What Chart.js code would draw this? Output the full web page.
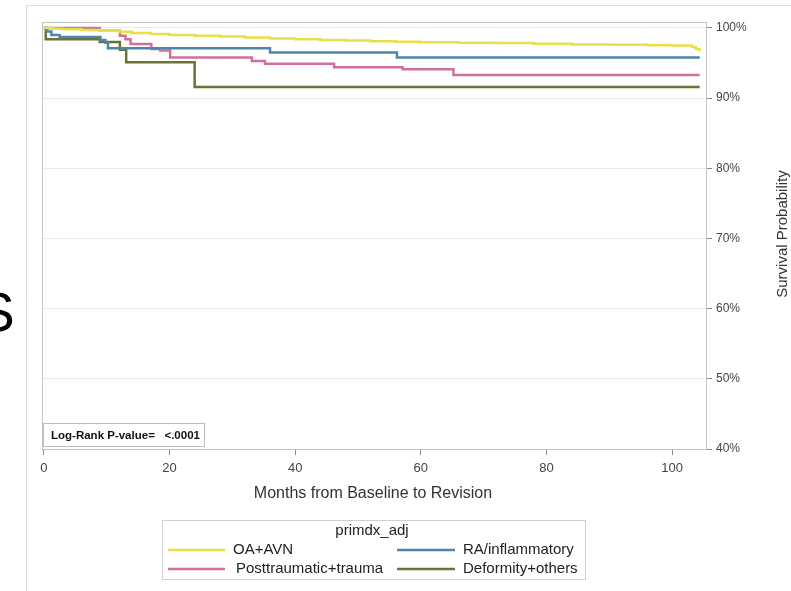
<!DOCTYPE html>
<html><head><meta charset="utf-8">
<script src="https://cdn.jsdelivr.net/npm/chart.js@4/dist/chart.umd.min.js"></script>
<style>html,body{margin:0;padding:0;background:#fff;}canvas{display:block}</style>
</head><body>
<canvas id="c" width="791" height="591"></canvas>
<script>
// ---- data ----
const xTicks = [0, 20, 40, 60, 80, 100];
const yTicks = [40, 50, 60, 70, 80, 90, 100];
const seriesNames = ['OA+AVN', 'RA/inflammatory', 'Posttraumatic+trauma', 'Deformity+others'];

const monthsOA = [0, 1.5, 3, 6, 9, 12, 14, 17, 20, 24, 28, 32, 36, 40, 44, 48, 52, 56, 60, 66, 72, 78, 84, 90, 96, 100, 103.2, 103.8, 104.4];
const survOA   = [100, 99.9, 99.8, 99.7, 99.6, 99.45, 99.3, 99.15, 99.0, 98.9, 98.8, 98.65, 98.5, 98.4, 98.3, 98.2, 98.1, 98.05, 97.95, 97.9, 97.85, 97.75, 97.65, 97.6, 97.55, 97.5, 97.3, 97.0, 96.7];

const monthsRA = [0, 0.5, 1.2, 2.5, 9.0, 9.8, 10.2, 36.0, 56.2, 104.4];
const survRA   = [100, 99.5, 99.0, 98.7, 98.3, 97.9, 97.1, 96.5, 95.8, 95.8];

const monthsPT = [0, 8.9, 12.1, 13.0, 13.8, 17.1, 18.5, 20.1, 33.1, 35.2, 46.2, 57.1, 65.2, 104.4];
const survPT   = [100, 99.6, 98.9, 98.4, 97.7, 97.0, 96.8, 95.8, 95.3, 94.9, 94.4, 94.1, 93.3, 93.3];

const monthsDF = [0, 0.3, 8.9, 12.1, 13.1, 24.0, 104.4];
const survDF   = [100, 98.4, 98.0, 96.9, 95.1, 91.6, 91.6];

const pValueText = 'Log-Rank P-value=   <.0001';
const legendTitle = 'primdx_adj';
const xTitle = 'Months from Baseline to Revision';
const yTitle = 'Survival Probability';

const colors = ['#e8e04a', '#4d86a9', '#d06f9d', '#6b7332'];

function pts(xs, ys) { return xs.map((x, i) => ({ x: x, y: ys[i] })); }

const FONT = '"Liberation Sans", Arial, sans-serif';

const extras = {
  id: 'extras',
  beforeDraw(chart) {
    const ctx = chart.ctx;
    ctx.save();
    ctx.fillStyle = '#fff';
    ctx.fillRect(0, 0, chart.width, chart.height);
    // faint outer frame of the source figure
    ctx.strokeStyle = '#dcdcdc';
    ctx.lineWidth = 1;
    ctx.beginPath();
    ctx.moveTo(26.5, 591); ctx.lineTo(26.5, 5.5); ctx.lineTo(791, 5.5);
    ctx.stroke();
    // cropped letter on the left
    ctx.fillStyle = '#000';
    ctx.font = '55px ' + FONT;
    ctx.textBaseline = 'middle';
    ctx.textAlign = 'left';
    ctx.fillText('S', -22, 316);
    ctx.restore();
  },
  beforeDatasetsDraw(chart) {
    const { ctx, chartArea: a } = chart;
    ctx.save();
    ctx.strokeStyle = '#c4c4c4';
    ctx.lineWidth = 1;
    ctx.strokeRect(a.left + 0.5, a.top + 0.5, a.right - a.left, a.bottom - a.top);
    ctx.restore();
  },
  afterDatasetsDraw(chart) {
    const { ctx, chartArea: a } = chart;
    ctx.save();
    // Log-rank box
    ctx.fillStyle = '#fff';
    ctx.fillRect(a.left + 1, 423, 162, 24);
    ctx.strokeStyle = '#bdbdbd';
    ctx.strokeRect(a.left + 1.5, 423.5, 161, 23);
    ctx.fillStyle = '#111';
    ctx.font = 'bold 11.5px ' + FONT;
    ctx.textBaseline = 'middle';
    ctx.textAlign = 'left';
    ctx.fillText(pValueText, a.left + 9, 436);

    // axis titles
    ctx.fillStyle = '#333';
    ctx.font = '16px ' + FONT;
    ctx.textAlign = 'center';
    ctx.fillText(xTitle, 373, 494);
    ctx.save();
    ctx.translate(783, 234);
    ctx.rotate(-Math.PI / 2);
    ctx.font = '15px ' + FONT;
    ctx.fillText(yTitle, 0, 0);
    ctx.restore();

    // legend
    ctx.strokeStyle = '#cfcfcf';
    ctx.lineWidth = 1;
    ctx.strokeRect(162.5, 520.5, 423, 59);
    ctx.fillStyle = '#222';
    ctx.font = '15px ' + FONT;
    ctx.textAlign = 'center';
    ctx.fillText(legendTitle, 372, 531);
    const items = [
      { x0: 168, x1: 225, tx: 233, y: 550 },
      { x0: 397, x1: 455, tx: 463, y: 550 },
      { x0: 168, x1: 225, tx: 236, y: 569 },
      { x0: 397, x1: 455, tx: 463, y: 569 }
    ];
    ctx.textAlign = 'left';
    items.forEach((it, i) => {
      ctx.strokeStyle = colors[i];
      ctx.lineWidth = 2.5;
      ctx.beginPath();
      ctx.moveTo(it.x0, it.y); ctx.lineTo(it.x1, it.y);
      ctx.stroke();
      ctx.fillStyle = '#222';
      ctx.fillText(seriesNames[i], it.tx, it.y);
    });
    ctx.restore();
  }
};

new Chart(document.getElementById('c'), {
  type: 'line',
  data: {
    datasets: [
      { label: seriesNames[0], data: pts(monthsOA, survOA), borderColor: colors[0] },
      { label: seriesNames[1], data: pts(monthsRA, survRA), borderColor: colors[1] },
      { label: seriesNames[2], data: pts(monthsPT, survPT), borderColor: colors[2] },
      { label: seriesNames[3], data: pts(monthsDF, survDF), borderColor: colors[3] }
    ].map(d => Object.assign(d, { borderWidth: 2.5, pointRadius: 0, stepped: true, fill: false, tension: 0 }))
  },
  options: {
    responsive: false,
    animation: false,
    events: [],
    layout: { padding: { left: 42, top: 22, right: 25, bottom: 92 } },
    plugins: { legend: { display: false }, tooltip: { enabled: false } },
    scales: {
      x: {
        type: 'linear',
        min: -0.3,
        max: 105.4,
        afterBuildTicks: s => { s.ticks = xTicks.map(v => ({ value: v })); },
        afterFit: s => { s.height = 50; },
        grid: { drawOnChartArea: false, drawTicks: true, tickLength: 6, tickColor: '#8a8a8a' },
        border: { display: true, color: '#9a9a9a', width: 1 },
        ticks: { color: '#444', font: { family: FONT, size: 13 }, padding: 6, maxRotation: 0 }
      },
      y: {
        type: 'linear',
        position: 'right',
        min: 40,
        max: 100.85,
        afterBuildTicks: s => { s.ticks = yTicks.map(v => ({ value: v })); },
        afterFit: s => { s.width = 60; },
        grid: { color: '#e8e8e8', drawTicks: true, tickLength: 6, tickColor: '#8a8a8a' },
        border: { display: true, color: '#9a9a9a', width: 1 },
        ticks: { color: '#444', font: { family: FONT, size: 12 }, padding: 4, callback: v => v + '%' }
      }
    }
  },
  plugins: [extras]
});
</script>
</body></html>
